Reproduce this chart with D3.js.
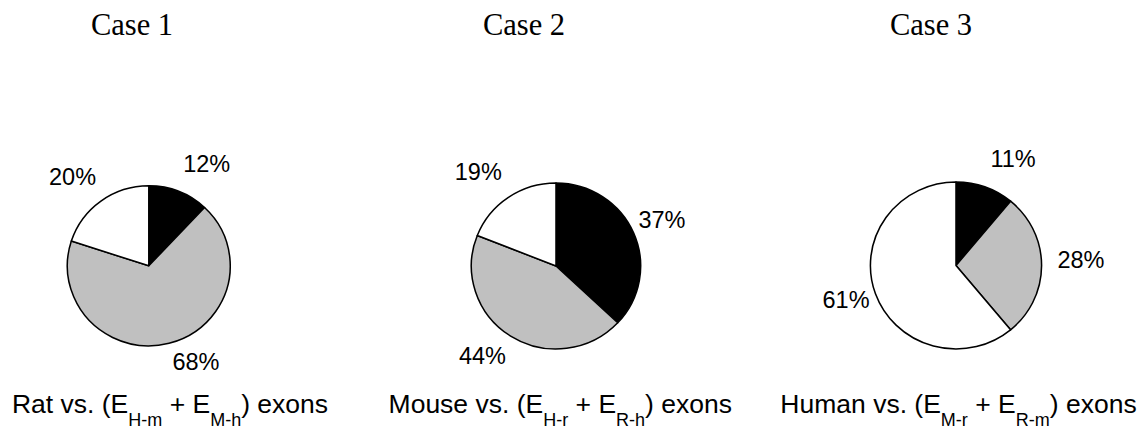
<!DOCTYPE html>
<html><head><meta charset="utf-8">
<script src="https://cdn.jsdelivr.net/npm/d3@7"></script>
<style>body{margin:0;background:#fff} svg{display:block}</style>
</head><body><svg id="c" width="1140" height="432"></svg>
<script>
// ---- data ----
const caseTitles = ["Case 1", "Case 2", "Case 3"];
const categories = ["black", "gray", "white"];
const case1Values = [12, 68, 20];
const case2Values = [37, 44, 19];
const case3Values = [11, 28, 61];
const captionSpecies = ["Rat", "Mouse", "Human"];
const captionSubA = ["H-m", "H-r", "M-r"];
const captionSubB = ["M-h", "R-h", "R-m"];

// ---- layout ----
const pies = [
  {cx: 148.8, cy: 265.8, r: 80,   sx: 1.018, titleX: 132, capX: 170,
   nudge: [[17.4, 0.6], [19.8, -10.5], [-11.6, 0]]},
  {cx: 556,   cy: 266,   r: 83,   sx: 1.02,  titleX: 524, capX: 560.3,
   nudge: [[2.3, -1.6], [-13, -5.6], [-14.2, -0.7]]},
  {cx: 956,   cy: 265.5, r: 83.5, sx: 1.025, titleX: 931, capX: 958.5,
   nudge: [[18.6, -0.2], [11.5, -5.4], [-3.2, -3.8]]}
];
const allValues = [case1Values, case2Values, case3Values];

const color = d3.scaleOrdinal(categories, ["#000000", "#c0c0c0", "#ffffff"]);
const svg = d3.select("#c");

pies.forEach((p, i) => {
  const data = allValues[i].map((v, k) => ({cat: categories[k], v}));
  const arcs = d3.pie().sort(null).value(d => d.v)(data);
  const arc = d3.arc().innerRadius(0).outerRadius(p.r);
  const lab = d3.arc().innerRadius(p.r + 30).outerRadius(p.r + 30);

  const g = svg.append("g").attr("transform", `translate(${p.cx},${p.cy})`);
  const gp = g.append("g").attr("transform", `scale(${p.sx},1)`);
  gp.selectAll("path").data(arcs).join("path")
    .attr("d", arc)
    .attr("fill", d => color(d.data.cat))
    .attr("stroke", "#000")
    .attr("stroke-width", 1.5)
    .attr("stroke-linejoin", "round");

  g.selectAll("text.lab").data(arcs).join("text")
    .attr("class", "lab")
    .attr("x", (d, k) => lab.centroid(d)[0] + p.nudge[k][0])
    .attr("y", (d, k) => lab.centroid(d)[1] + p.nudge[k][1])
    .attr("dy", "0.35em")
    .attr("text-anchor", "middle")
    .attr("font-family", "'Liberation Sans', Arial, sans-serif")
    .attr("font-size", 23.5)
    .attr("fill", "#000")
    .text(d => d.data.v + "%");

  svg.append("text")
    .attr("x", p.titleX).attr("y", 35)
    .attr("text-anchor", "middle")
    .attr("font-family", "'Liberation Serif', 'Times New Roman', serif")
    .attr("font-size", 30.5)
    .text(caseTitles[i]);

  const cap = svg.append("text")
    .attr("x", p.capX).attr("y", 413)
    .attr("text-anchor", "middle")
    .attr("font-family", "'Liberation Sans', Arial, sans-serif")
    .attr("font-size", 26.5);
  cap.append("tspan").text(captionSpecies[i] + " vs. (E");
  cap.append("tspan").attr("dy", 12.5).attr("font-size", 18).text(captionSubA[i]);
  cap.append("tspan").attr("dy", -12.5).text(" + E");
  cap.append("tspan").attr("dy", 12.5).attr("font-size", 18).text(captionSubB[i]);
  cap.append("tspan").attr("dy", -12.5).text(") exons");
});
</script></body></html>
